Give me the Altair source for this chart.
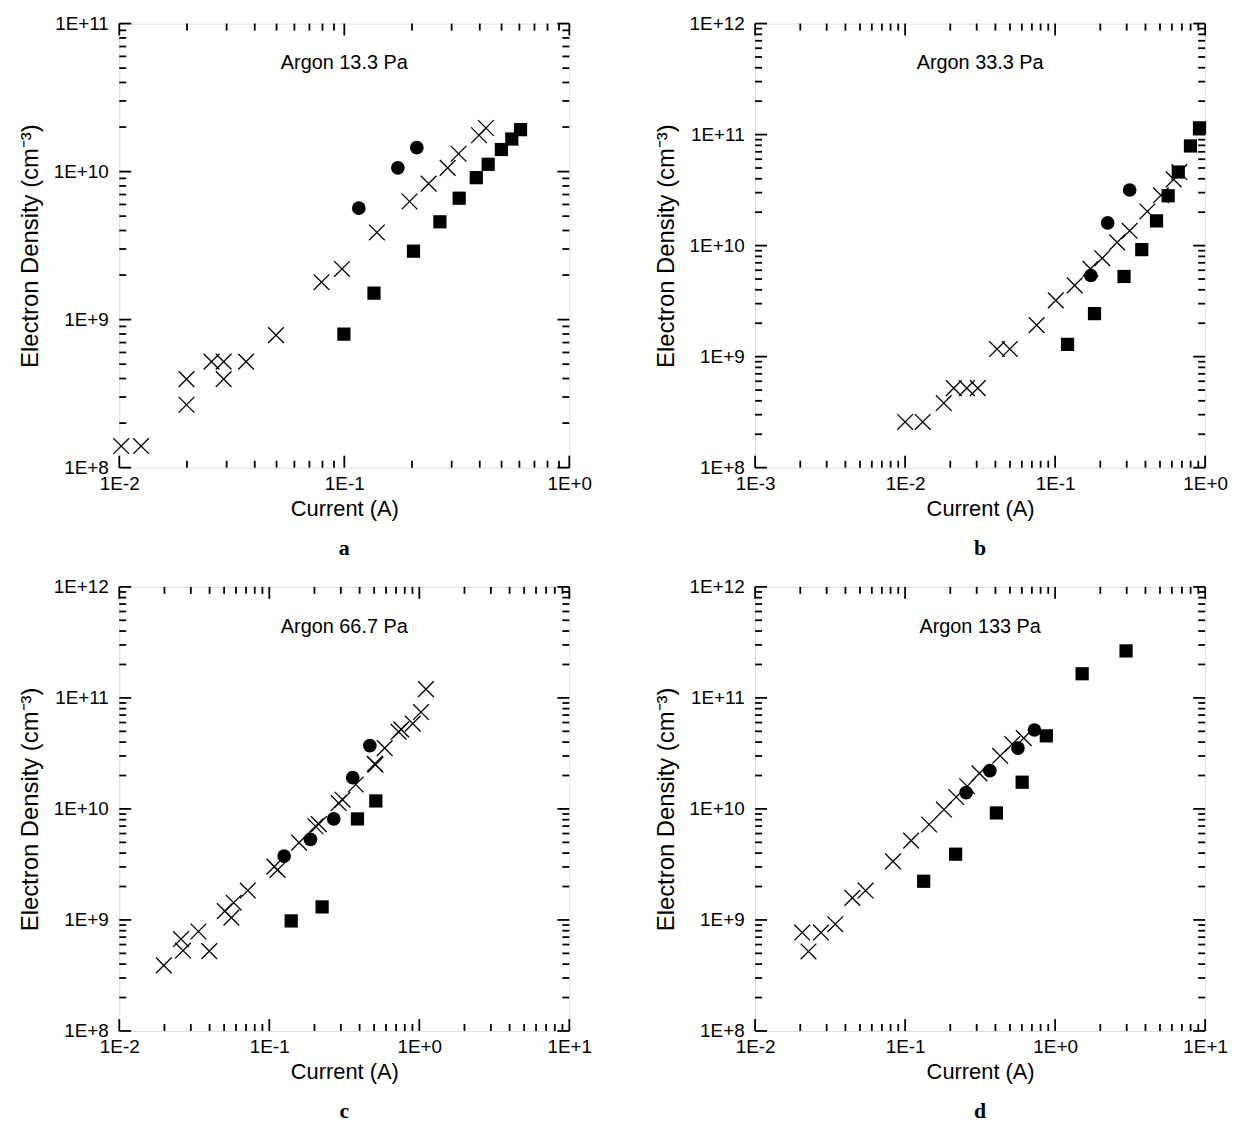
import altair as alt
import pandas as pd

FONT = "Liberation Sans"

# ---------------- data ----------------
# Panel a: Argon 13.3 Pa
a_cross_x = [0.0102, 0.0125, 0.0199, 0.0199, 0.0257, 0.0291, 0.0291, 0.0366, 0.0497,
             0.0792, 0.0977, 0.1396, 0.195, 0.237, 0.288, 0.322, 0.397, 0.426]
a_cross_y = [1.40e8, 1.40e8, 3.96e8, 2.66e8, 5.2e8, 5.2e8, 3.96e8, 5.2e8, 7.86e8,
             1.79e9, 2.20e9, 3.88e9, 6.28e9, 8.3e9, 1.06e10, 1.32e10, 1.76e10, 1.97e10]
a_circ_x = [0.116, 0.173, 0.210]
a_circ_y = [5.66e9, 1.06e10, 1.45e10]
a_sq_x = [0.0996, 0.1355, 0.203, 0.266, 0.324, 0.386, 0.436, 0.499, 0.555, 0.607]
a_sq_y = [7.98e8, 1.51e9, 2.90e9, 4.58e9, 6.61e9, 9.1e9, 1.12e10, 1.41e10, 1.66e10, 1.92e10]

# Panel b: Argon 33.3 Pa
b_cross_x = [0.0100, 0.0131, 0.0181, 0.0211, 0.0258, 0.0305, 0.0410, 0.0499, 0.0753,
             0.101, 0.135, 0.172, 0.206, 0.259, 0.314, 0.412, 0.507, 0.617, 0.673]
b_cross_y = [2.58e8, 2.58e8, 3.82e8, 5.2e8, 5.2e8, 5.2e8, 1.17e9, 1.17e9, 1.92e9,
             3.21e9, 4.38e9, 6.18e9, 7.7e9, 1.07e10, 1.36e10, 2.03e10, 2.84e10, 3.95e10, 4.6e10]
b_circ_x = [0.173, 0.224, 0.314]
b_circ_y = [5.38e9, 1.60e10, 3.17e10]
b_sq_x = [0.121, 0.183, 0.288, 0.378, 0.474, 0.567, 0.662, 0.798, 0.917]
b_sq_y = [1.29e9, 2.44e9, 5.27e9, 9.2e9, 1.67e10, 2.81e10, 4.6e10, 7.9e10, 1.15e11]

# Panel c: Argon 66.7 Pa
c_cross_x = [0.0198, 0.0258, 0.0266, 0.0337, 0.0398, 0.0505, 0.0559, 0.0579, 0.0719,
             0.108, 0.1135, 0.158, 0.203, 0.214, 0.290, 0.308, 0.377, 0.505, 0.51,
             0.588, 0.728, 0.757, 0.904, 1.026, 1.107]
c_cross_y = [3.9e8, 6.73e8, 5.3e8, 7.87e8, 5.24e8, 1.20e9, 1.05e9, 1.43e9, 1.84e9,
             3.02e9, 2.82e9, 4.97e9, 6.98e9, 7.3e9, 1.13e10, 1.21e10, 1.66e10, 2.55e10, 2.5e10,
             3.53e10, 4.95e10, 5.2e10, 5.87e10, 7.46e10, 1.20e11]
c_circ_x = [0.1256, 0.188, 0.269, 0.360, 0.468]
c_circ_y = [3.76e9, 5.32e9, 8.13e9, 1.91e10, 3.72e10]
c_sq_x = [0.140, 0.225, 0.387, 0.513]
c_sq_y = [9.8e8, 1.31e9, 8.13e9, 1.18e10]

# Panel d: Argon 133 Pa
d_cross_x = [0.0206, 0.0227, 0.0275, 0.0342, 0.0445, 0.0545, 0.0830, 0.1097, 0.1445,
             0.1815, 0.219, 0.259, 0.313, 0.430, 0.518, 0.618]
d_cross_y = [7.7e8, 5.2e8, 7.7e8, 9.15e8, 1.58e9, 1.84e9, 3.37e9, 5.18e9, 7.24e9,
             9.87e9, 1.28e10, 1.60e10, 2.09e10, 3.01e10, 3.83e10, 4.34e10]
d_circ_x = [0.255, 0.367, 0.565, 0.728]
d_circ_y = [1.40e10, 2.21e10, 3.53e10, 5.14e10]
d_sq_x = [0.133, 0.217, 0.406, 0.603, 0.873, 1.514, 2.97]
d_sq_y = [2.23e9, 3.91e9, 9.2e9, 1.74e10, 4.55e10, 1.65e11, 2.65e11]

# axis tick labels (decades)
a_xticks = [0.01, 0.1, 1]
a_yticks = [1e8, 1e9, 1e10, 1e11]
b_xticks = [0.001, 0.01, 0.1, 1]
b_yticks = [1e8, 1e9, 1e10, 1e11, 1e12]
c_xticks = [0.01, 0.1, 1, 10]
c_yticks = [1e8, 1e9, 1e10, 1e11, 1e12]
d_xticks = [0.01, 0.1, 1, 10]
d_yticks = [1e8, 1e9, 1e10, 1e11, 1e12]

labels = ["Argon 13.3 Pa", "Argon 33.3 Pa", "Argon 66.7 Pa", "Argon 133 Pa"]
captions = ["a", "b", "c", "d"]
x_title = "Current (A)"
y_title = "Electron Density (cm\u207B\u00B3)"

W, H = 453, 447
CROSS = "M-1,-1L1,1M-1,1L1,-1"
LABEL_EXPR = ("'1E' + (round(log(datum.value)/LN10) >= 0 ? '+' : '') + "
              "round(log(datum.value)/LN10)")


def minor_ticks(decades):
    out = []
    for d in decades[:-1]:
        for m in range(2, 10):
            out.append(d * m)
    return out


def panel(label, caption, xticks, yticks, cx, cy, ox, oy, sx, sy):
    xs = alt.Scale(type="log", domain=[xticks[0], xticks[-1]], nice=False)
    ys = alt.Scale(type="log", domain=[yticks[0], yticks[-1]], nice=False)
    xaxis = alt.Axis(values=xticks, labelExpr=LABEL_EXPR, ticks=False, domain=False,
                     grid=False, title=x_title, labelPadding=7, titlePadding=5,
                     labelFontSize=19, titleFontSize=22, labelFont=FONT, titleFont=FONT,
                     labelColor="black", titleColor="black", titleFontWeight="normal",
                     labelFlush=False, labelOverlap=False)
    yaxis = alt.Axis(values=yticks, labelExpr=LABEL_EXPR, ticks=False, domain=False,
                     grid=False, title=y_title, labelPadding=11, titlePadding=11,
                     labelFontSize=19, titleFontSize=24, labelFont=FONT, titleFont=FONT,
                     labelColor="black", titleColor="black", titleFontWeight="normal",
                     labelFlush=False, labelOverlap=False)
    X = alt.X("x:Q", scale=xs, axis=xaxis)
    Y = alt.Y("y:Q", scale=ys, axis=yaxis)

    crosses = alt.Chart(pd.DataFrame({"x": cx, "y": cy})).mark_point(
        shape=CROSS, filled=False, stroke="black", strokeWidth=1.3, size=250, opacity=1
    ).encode(x=X, y=Y)
    circles = alt.Chart(pd.DataFrame({"x": ox, "y": oy})).mark_point(
        shape="circle", filled=True, color="black", size=190, opacity=1
    ).encode(x=X, y=Y)
    squares = alt.Chart(pd.DataFrame({"x": sx, "y": sy})).mark_point(
        shape="square", filled=True, color="black", size=177, opacity=1
    ).encode(x=X, y=Y)

    layers = [crosses, circles, squares]
    xmaj = pd.DataFrame({"x": xticks})
    xmin = pd.DataFrame({"x": minor_ticks(xticks)})
    ymaj = pd.DataFrame({"y": yticks})
    ymin = pd.DataFrame({"y": minor_ticks(yticks)})
    tick = dict(color="black", strokeWidth=1.8)
    for df, ln in ((xmaj, 12), (xmin, 7)):
        layers.append(alt.Chart(df).mark_rule(**tick).encode(
            x=X, y=alt.value(0), y2=alt.value(ln)))
        layers.append(alt.Chart(df).mark_rule(**tick).encode(
            x=X, y=alt.value(H), y2=alt.value(H - ln)))
    for df, ln in ((ymaj, 12), (ymin, 7)):
        layers.append(alt.Chart(df).mark_rule(**tick).encode(
            y=Y, x=alt.value(0), x2=alt.value(ln)))
        layers.append(alt.Chart(df).mark_rule(**tick).encode(
            y=Y, x=alt.value(W), x2=alt.value(W - ln)))

    txt = alt.Chart(pd.DataFrame({"t": [label]})).mark_text(
        font=FONT, fontSize=20, color="black", baseline="middle", align="center"
    ).encode(text="t:N", x=alt.value(W / 2), y=alt.value(40))
    layers.append(txt)

    return alt.layer(*layers).properties(
        width=W, height=H,
        title=alt.TitleParams(caption, orient="bottom", font="Liberation Serif",
                              fontSize=22, fontWeight="bold", color="black", offset=19,
                              anchor="middle"),
    )


pa = panel(labels[0], captions[0], a_xticks, a_yticks, a_cross_x, a_cross_y,
           a_circ_x, a_circ_y, a_sq_x, a_sq_y)
pb = panel(labels[1], captions[1], b_xticks, b_yticks, b_cross_x, b_cross_y,
           b_circ_x, b_circ_y, b_sq_x, b_sq_y)
pc = panel(labels[2], captions[2], c_xticks, c_yticks, c_cross_x, c_cross_y,
           c_circ_x, c_circ_y, c_sq_x, c_sq_y)
pd_ = panel(labels[3], captions[3], d_xticks, d_yticks, d_cross_x, d_cross_y,
            d_circ_x, d_circ_y, d_sq_x, d_sq_y)

chart = alt.concat(pa, pb, pc, pd_, columns=2, spacing={"row": 120, "column": 187},
                   bounds="flush").properties(
    padding={"left": 10, "top": 2, "right": 0, "bottom": 0}
).configure_view(stroke="black", strokeWidth=2).configure(background="white")

chart.save("out.html", embed_options={"renderer": "svg", "actions": False})
